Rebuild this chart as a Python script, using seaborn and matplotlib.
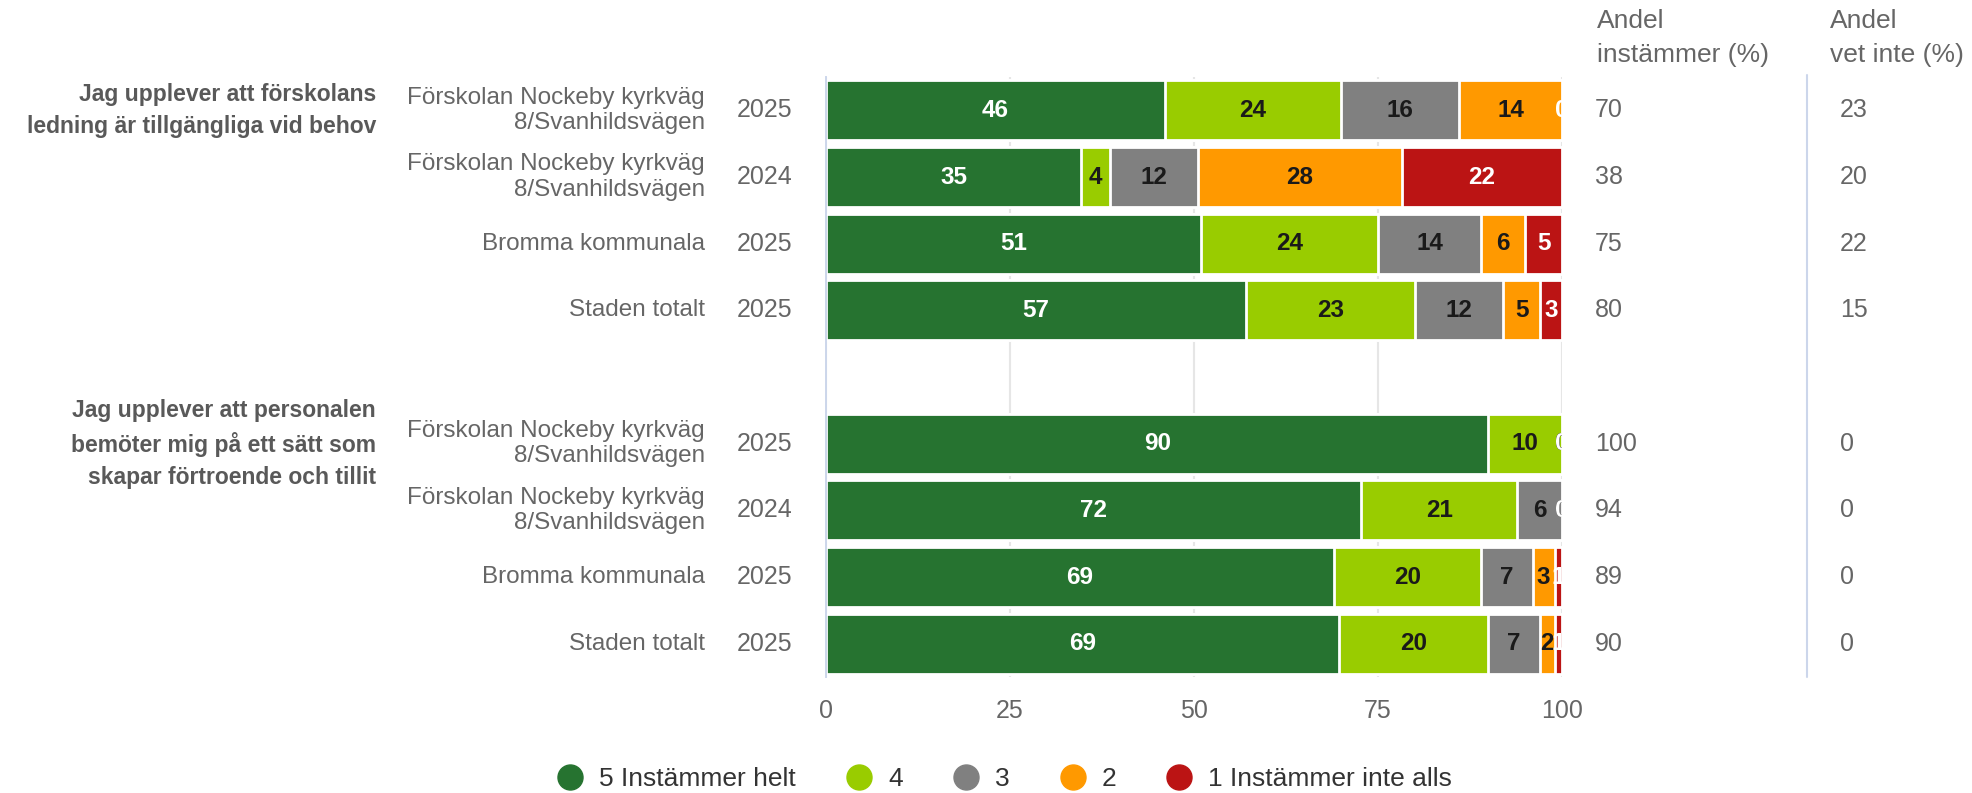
import numpy as np
import pandas as pd
import seaborn as sns
import matplotlib.pyplot as plt
import matplotlib.transforms as mtransforms
from matplotlib.lines import Line2D

sns.set_style("white")
plt.rcParams['font.family'] = ['Liberation Sans', 'DejaVu Sans']

# --- data -----------------------------------------------------------------
questions = ["Jag upplever att förskolans\nledning är tillgängliga vid behov",
             "Jag upplever att personalen\nbemöter mig på ett sätt som\nskapar förtroende och tillit"]
units = ["Förskolan Nockeby kyrkväg\n8/Svanhildsvägen", "Förskolan Nockeby kyrkväg\n8/Svanhildsvägen",
         "Bromma kommunala", "Staden totalt"] * 2
years = ["2025", "2024", "2025", "2025"] * 2
categories = ["5 Instämmer helt", "4", "3", "2", "1 Instämmer inte alls"]

v5 = [46, 35, 51, 57, 90, 72, 69, 69]
v4 = [24, 4, 24, 23, 10, 21, 20, 20]
v3 = [16, 12, 14, 12, 0, 6, 7, 7]
v2 = [14, 28, 6, 5, 0, 0, 3, 2]
v1 = [0, 22, 5, 3, 0, 0, 1, 1]
agree = [70, 38, 75, 80, 100, 94, 89, 90]
dont_know = [23, 20, 22, 15, 0, 0, 0, 0]

colors = ["#267330", "#99cc00", "#808080", "#ff9900", "#bb1414"]
label_colors = ["white", "#1a1a1a", "#1a1a1a", "#1a1a1a", "white"]

# row slots, with an empty slot between the two questions
row_ids = ["a0", "a1", "a2", "a3", "b0", "b1", "b2", "b3"]
order = ["a0", "a1", "a2", "a3", "gap", "b0", "b1", "b2", "b3"]
slot = {r: order.index(r) for r in row_ids}

vals = np.array([v5, v4, v3, v2, v1], dtype=float).T  # rows x categories
share = vals / vals.sum(axis=1, keepdims=True) * 100
cum = share.cumsum(axis=1)

records = []
for i, r in enumerate(row_ids):
    for j, c in enumerate(categories):
        records.append(dict(row=r, cat=c, value=vals[i, j], share=share[i, j],
                            left=cum[i, j] - share[i, j], cum=cum[i, j]))
df = pd.DataFrame(records)

# --- figure -----------------------------------------------------------------
W, H = 1972, 793
fig = plt.figure(figsize=(W / 100, H / 100), dpi=100)
ax_l, ax_r, ax_t, ax_b = 826, 1562, 77, 677
ax = fig.add_axes([ax_l / W, 1 - ax_b / H, (ax_r - ax_l) / W, (ax_b - ax_t) / H])

# stacked bars: draw cumulative totals from the last category backwards
for j in reversed(range(len(categories))):
    sub = df[df["cat"] == categories[j]]
    sns.barplot(data=sub, x="cum", y="row", order=order, orient="h",
                color=colors[j], saturation=1, width=0.9, errorbar=None,
                edgecolor="white", linewidth=2, ax=ax, zorder=2)

for _, rec in df.iterrows():
    j = categories.index(rec["cat"])
    x = rec["left"] + rec["share"] / 2
    ax.text(x, slot[rec["row"]], f"{int(rec['value'])}", ha="center", va="center",
            fontsize=17.5, fontweight="bold", color=label_colors[j], clip_on=True, zorder=5)

ax.set_xlim(0, 100)
ax.set_ylim(len(order) - 0.5, -0.5)
ax.set_xticks([0, 25, 50, 75, 100])
ax.set_xlabel("")
ax.set_ylabel("")
ax.set_yticks(range(len(order)))
ax.set_yticklabels([])
ax.set_yticks(np.arange(-0.5, len(order)), minor=True)
ax.tick_params(axis="y", which="major", length=0)
ax.tick_params(axis="y", which="minor", length=16, width=1.4, color="#ccd6eb")
ax.tick_params(axis="x", length=0, pad=16, labelsize=18, labelcolor="#666666")
ax.xaxis.grid(True, color="#e6e6e6", linewidth=1.5, zorder=0)
ax.set_axisbelow(True)
for s in ["top", "right", "bottom"]:
    ax.spines[s].set_visible(False)
ax.spines["left"].set_color("#ccd6eb")
ax.spines["left"].set_linewidth(1.4)

# category labels
tr = mtransforms.blended_transform_factory(fig.transFigure, ax.transData)
for i, r in enumerate(row_ids):
    y = slot[r]
    ax.text(705 / W, y, units[i], transform=tr, ha="right", va="center",
            fontsize=17.5, color="#666666", linespacing=1.2)
    ax.text(792 / W, y, years[i], transform=tr, ha="right", va="center",
            fontsize=18, color="#666666")
    ax.text(1595 / W, y, f"{agree[i]}", transform=tr, ha="left", va="center",
            fontsize=18, color="#666666")
    ax.text(1840 / W, y, f"{dont_know[i]}", transform=tr, ha="left", va="center",
            fontsize=18, color="#666666")

ax.text(376 / W, slot["a0"], questions[0], transform=tr, ha="right", va="center",
        fontsize=16.5, fontweight="bold", color="#595959", linespacing=1.5)
ax.text(376 / W, slot["b0"], questions[1], transform=tr, ha="right", va="center",
        fontsize=16.5, fontweight="bold", color="#595959", linespacing=1.5)

# column headers
fig.text(1597 / W, 1 - 38 / H, "Andel\ninstämmer (%)", ha="left", va="center",
         fontsize=19, color="#666666", linespacing=1.5)
fig.text(1830 / W, 1 - 38 / H, "Andel\nvet inte (%)", ha="left", va="center",
         fontsize=19, color="#666666", linespacing=1.5)
fig.add_artist(Line2D([1807 / W, 1807 / W], [1 - ax_b / H, 1 - 75 / H],
                      color="#ccd6eb", linewidth=1.5))

# legend
handles = [Line2D([], [], marker="o", linestyle="", markersize=18,
                  markerfacecolor=c, markeredgecolor=c) for c in colors]
fig.legend(handles, categories, loc="center", bbox_to_anchor=(0.5095, 1 - 779 / H),
           ncol=5, frameon=False, fontsize=19, handlelength=1.0, handletextpad=0.6,
           columnspacing=1.89, labelcolor="#333333")

fig.savefig("out.png", dpi=100)
